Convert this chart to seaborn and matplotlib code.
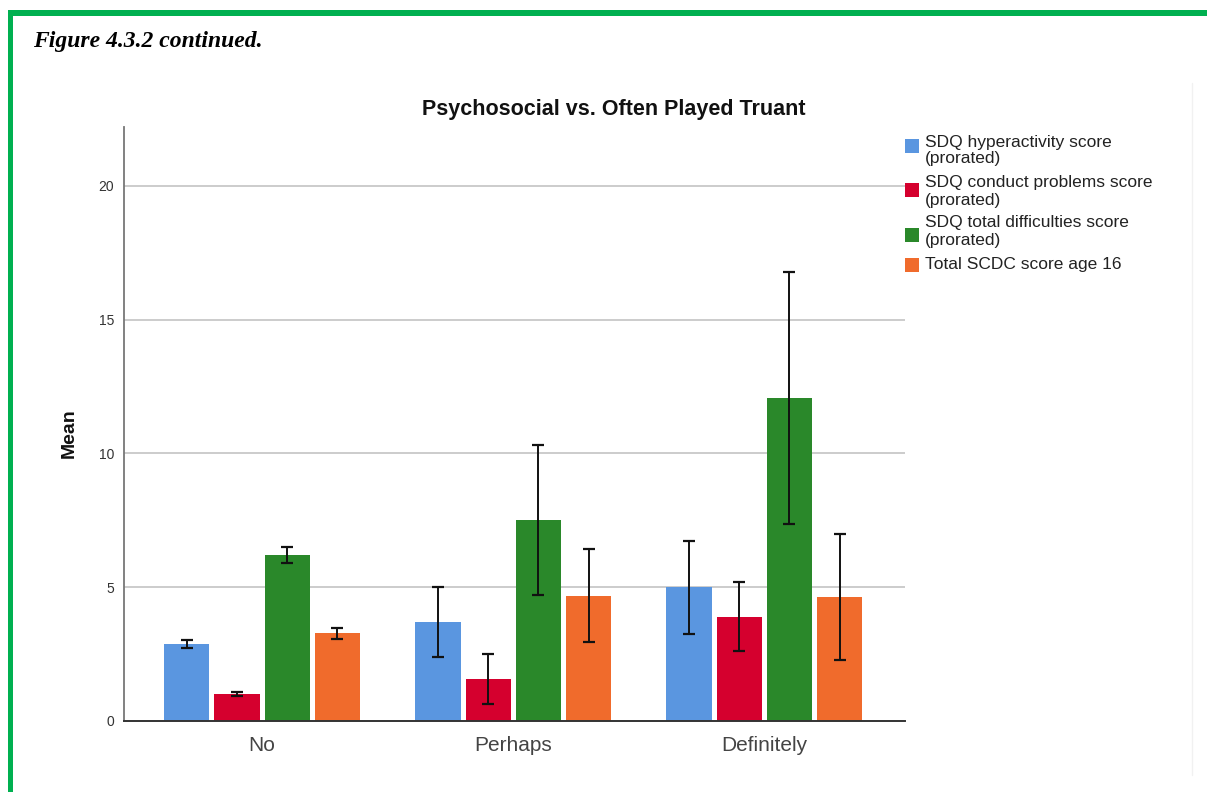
import matplotlib
matplotlib.use("Agg")
import matplotlib.pyplot as plt
from matplotlib.patches import Rectangle
import seaborn as sns
import pandas as pd
import numpy as np

# Grouping variable (x axis) and the four measures (hue)
categories = ["No", "Perhaps", "Definitely"]
series = [
    "SDQ hyperactivity score\n(prorated)",
    "SDQ conduct problems score\n(prorated)",
    "SDQ total difficulties score\n(prorated)",
    "Total SCDC score age 16",
]

# Means per measure, one value per category
hyperactivity = [2.87, 3.69, 5.00]
conduct = [1.00, 1.57, 3.90]
total_difficulties = [6.21, 7.51, 12.06]
scdc = [3.28, 4.68, 4.64]

# Error-bar half widths per measure
hyperactivity_err = [0.15, 1.30, 1.74]
conduct_err = [0.08, 0.93, 1.30]
total_difficulties_err = [0.31, 2.80, 4.71]
scdc_err = [0.21, 1.74, 2.36]

yticks = [0, 5, 10, 15, 20]
colors = ["#5A96E0", "#D5002E", "#2A882A", "#F06B2C"]

means = [hyperactivity, conduct, total_difficulties, scdc]
errors = [hyperactivity_err, conduct_err, total_difficulties_err, scdc_err]

rows = []
for s, vals in zip(series, means):
    for c, v in zip(categories, vals):
        rows.append({"group": c, "measure": s, "mean": v})
df = pd.DataFrame(rows)

sns.set_style("white")
plt.rcParams["font.family"] = ["Liberation Sans", "DejaVu Sans"]

W, H = 1207, 792
fig = plt.figure(figsize=(W / 100, H / 100), dpi=100)
fig.patch.set_facecolor("white")


def fx(px):
    return px / W


def fy(py):
    return 1 - py / H


ax = fig.add_axes([fx(124), fy(721), fx(905) - fx(124), fy(127) - fy(721)])

sns.barplot(
    data=df, x="group", y="mean", hue="measure",
    order=categories, hue_order=series, palette=colors,
    errorbar=None, width=0.8, gap=0.1, saturation=1,
    linewidth=0, legend=False, ax=ax,
)

# Error bars placed on each bar's centre
for cont, err in zip(ax.containers, errors):
    for bar, e in zip(cont, err):
        cx = bar.get_x() + bar.get_width() / 2
        ax.errorbar(cx, bar.get_height(), yerr=e, fmt="none",
                    ecolor="#111111", elinewidth=1.4, capsize=4.5,
                    capthick=1.6, zorder=5)

ax.set_xlim(-0.55, 2.56)
ax.set_ylim(0, 22.2)
ax.set_yticks(yticks)
ax.set_yticklabels([str(t) for t in yticks], fontsize=10, color="#333333")
ax.tick_params(axis="x", labelsize=15, colors="#444444", length=0, pad=11)
ax.tick_params(axis="y", length=0, pad=7)
for t in yticks[1:]:
    ax.axhline(t, color="#c8c8c8", lw=1.3, zorder=0)
ax.set_xlabel("")
ax.set_ylabel("Mean", fontsize=14, fontweight="bold", color="#111111")
ax.yaxis.set_label_coords((78 - 124) / (905 - 124), 0.485)

for side in ["top", "right"]:
    ax.spines[side].set_visible(False)
ax.spines["left"].set_color("#777777")
ax.spines["left"].set_linewidth(1.3)
ax.spines["bottom"].set_color("#333333")
ax.spines["bottom"].set_linewidth(1.4)

# Chart title
fig.text(fx(614), fy(109), "Psychosocial vs. Often Played Truant",
         ha="center", va="center", fontsize=15.5, fontweight="bold",
         color="#111111")

# Legend drawn at the right of the plot area
patch_centres = [146, 190, 235, 265]
first_lines = [142, 183, 223, 265]
for label, col, pc, ly in zip(series, colors, patch_centres, first_lines):
    fig.add_artist(Rectangle((fx(905), fy(pc + 7)), fx(14), 14 / H,
                             transform=fig.transFigure, facecolor=col,
                             edgecolor="none"))
    for j, line in enumerate(label.split("\n")):
        fig.text(fx(925), fy(ly + j * 17), line, ha="left", va="center",
                 fontsize=12.5, color="#222222")

# Figure caption
fig.text(fx(33), fy(42), "Figure 4.3.2 continued.", ha="left", va="center",
         fontsize=17, fontweight="bold", fontstyle="italic",
         family=["Liberation Serif", "DejaVu Serif"], color="black")

# Green frame along the top and left edges
green = "#00B050"
fig.add_artist(Rectangle((fx(8), fy(16)), 1 - fx(8), 6 / H,
                         transform=fig.transFigure, facecolor=green,
                         edgecolor="none"))
fig.add_artist(Rectangle((fx(8), 0), fx(5), fy(10),
                         transform=fig.transFigure, facecolor=green,
                         edgecolor="none"))
# Faint right edge of the chart panel
fig.add_artist(plt.Line2D([fx(1192), fx(1192)], [fy(775), fy(83)],
                          transform=fig.transFigure, color="#f1f1f1", lw=1))

fig.savefig("out.png", dpi=100, facecolor="white")
